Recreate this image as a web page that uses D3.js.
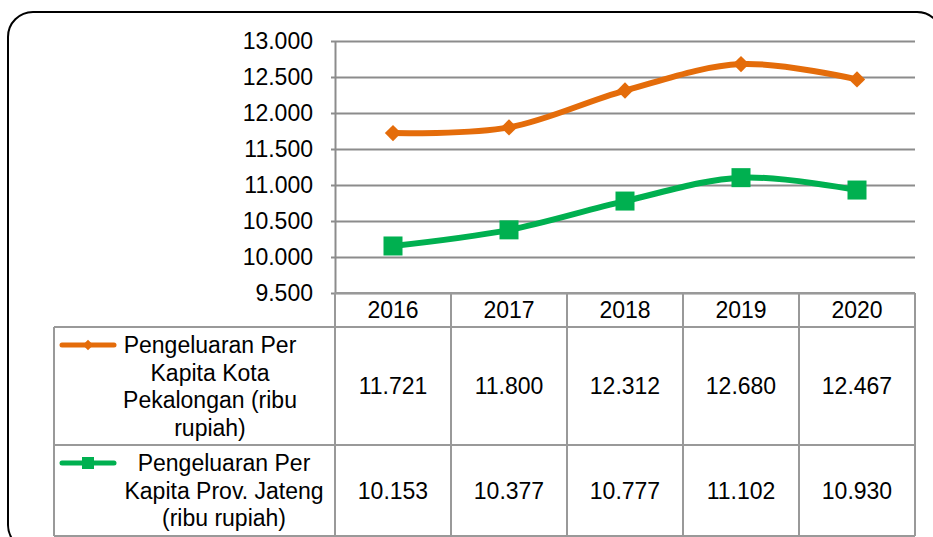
<!DOCTYPE html>
<html>
<head>
<meta charset="utf-8">
<title>Pengeluaran Per Kapita</title>
<style>
  body { margin: 0; background: #fff; }
  svg text { font-family: "Liberation Sans", Arial, sans-serif; fill: #000; }
</style>
</head>
<body>
<div class="plot_container"></div>
<script src="https://cdn.jsdelivr.net/npm/d3@7"></script>
<script>
// data
var years = ["2016", "2017", "2018", "2019", "2020"];
var kota = [11721, 11800, 12312, 12680, 12467];
var jateng = [10153, 10377, 10777, 11102, 10930];
var y_ticks = [9500, 10000, 10500, 11000, 11500, 12000, 12500, 13000];
var series_names = [
    ["Pengeluaran Per", "Kapita Kota", "Pekalongan (ribu", "rupiah)"],
    ["Pengeluaran Per", "Kapita Prov. Jateng", "(ribu rupiah)"]
];

var width = 933, height = 537;
var plot_left = 335, plot_right = 915, plot_top = 41, plot_bottom = 293;
var table_left = 54;
var row_lines = [293, 327, 445, 536];
var font_size = 23;
var grid_color = "#8c8c8c";
var orange = "#e46c0a", green = "#00b050";

var idn = d3.formatLocale({decimal: ",", thousands: ".", grouping: [3], currency: ["Rp", ""]});
var fmt = idn.format(",.0f");

var svg = d3.select(".plot_container").append("svg")
    .attr("width", width)
    .attr("height", height);

// outer rounded frame
svg.append("rect")
    .attr("x", 8).attr("y", 12)
    .attr("width", 934).attr("height", 538)
    .attr("rx", 25).attr("ry", 25)
    .attr("fill", "none")
    .attr("stroke", "#000")
    .attr("stroke-width", 2);

var x = d3.scaleBand().domain(years).range([plot_left, plot_right]);
var y = d3.scaleLinear().domain([9500, 13000]).range([plot_bottom, plot_top]);

// y axis with gridlines
var yAxis = svg.append("g")
    .attr("transform", "translate(" + plot_left + ",0)")
    .call(d3.axisLeft(y).tickValues(y_ticks).tickFormat(fmt)
        .tickSizeInner(-(plot_right - plot_left)).tickSizeOuter(0).tickPadding(22));
yAxis.select(".domain").attr("stroke", grid_color).attr("stroke-width", 2);
yAxis.selectAll(".tick line").attr("stroke", grid_color).attr("stroke-width", 2);
yAxis.selectAll(".tick").append("line")
    .attr("x1", -4).attr("x2", 0)
    .attr("stroke", grid_color).attr("stroke-width", 2);
yAxis.selectAll(".tick text")
    .style("font-size", font_size + "px")
    .attr("fill", "#000");

// data table lines
var tbl = svg.append("g").attr("stroke", "#999").attr("stroke-width", 2).attr("fill", "none");
tbl.append("line").attr("x1", plot_left).attr("x2", plot_right).attr("y1", row_lines[0]).attr("y2", row_lines[0]);
row_lines.slice(1).forEach(function(ry){
    tbl.append("line").attr("x1", table_left).attr("x2", plot_right).attr("y1", ry).attr("y2", ry);
});
tbl.append("line").attr("x1", table_left).attr("x2", table_left).attr("y1", row_lines[1]).attr("y2", row_lines[3]);
years.forEach(function(d){
    tbl.append("line").attr("x1", x(d)).attr("x2", x(d)).attr("y1", row_lines[0]).attr("y2", row_lines[3]);
});
tbl.append("line").attr("x1", plot_right).attr("x2", plot_right).attr("y1", row_lines[0]).attr("y2", row_lines[3]);

// year header
svg.selectAll(".year")
    .data(years)
    .enter()
    .append("text")
    .attr("class", "year")
    .attr("x", function(d){ return x(d) + x.bandwidth()/2; })
    .attr("y", (row_lines[0] + row_lines[1])/2)
    .attr("dy", "0.35em")
    .attr("text-anchor", "middle")
    .style("font-size", font_size + "px")
    .text(function(d){ return d; });

// value cells
[kota, jateng].forEach(function(vals, r){
    svg.selectAll(".val" + r)
        .data(vals)
        .enter()
        .append("text")
        .attr("class", "val" + r)
        .attr("x", function(d, i){ return x(years[i]) + x.bandwidth()/2; })
        .attr("y", (row_lines[r+1] + row_lines[r+2])/2)
        .attr("dy", "0.35em")
        .attr("text-anchor", "middle")
        .style("font-size", font_size + "px")
        .text(function(d){ return fmt(d); });
});

// lines
var line = d3.line()
    .x(function(d, i){ return x(years[i]) + x.bandwidth()/2; })
    .y(function(d){ return y(d); })
    .curve(d3.curveCatmullRom.alpha(0));

svg.append("path").datum(kota)
    .attr("d", line).attr("fill", "none")
    .attr("stroke", orange).attr("stroke-width", 6).attr("stroke-linejoin", "round");
svg.append("path").datum(jateng)
    .attr("d", line).attr("fill", "none")
    .attr("stroke", green).attr("stroke-width", 6).attr("stroke-linejoin", "round");

// markers
var diamond = d3.symbol().type(d3.symbolDiamond2).size(170);
svg.selectAll(".mk_kota")
    .data(kota)
    .enter()
    .append("path")
    .attr("class", "mk_kota")
    .attr("d", diamond)
    .attr("transform", function(d, i){
        return "translate(" + (x(years[i]) + x.bandwidth()/2) + "," + y(d) + ")";
    })
    .attr("fill", orange);

var sq = 19;
svg.selectAll(".mk_jateng")
    .data(jateng)
    .enter()
    .append("rect")
    .attr("class", "mk_jateng")
    .attr("x", function(d, i){ return x(years[i]) + x.bandwidth()/2 - sq/2; })
    .attr("y", function(d){ return y(d) - sq/2; })
    .attr("width", sq).attr("height", sq)
    .attr("fill", green);

// legend keys in table
var key_y = [345, 463];
var key_colors = [orange, green];
key_y.forEach(function(ky, r){
    svg.append("line")
        .attr("x1", 62).attr("x2", 114).attr("y1", ky).attr("y2", ky)
        .attr("stroke", key_colors[r]).attr("stroke-width", 5).attr("stroke-linecap", "round");
});
svg.append("path")
    .attr("d", d3.symbol().type(d3.symbolDiamond2).size(70))
    .attr("transform", "translate(88," + key_y[0] + ")")
    .attr("fill", orange);
svg.append("rect")
    .attr("x", 82).attr("y", key_y[1] - 6).attr("width", 12).attr("height", 12)
    .attr("fill", green);

// legend text
var text_cx = [210, 224];
series_names.forEach(function(lines, r){
    var t = svg.append("text")
        .attr("text-anchor", "middle")
        .style("font-size", font_size + "px");
    lines.forEach(function(s, k){
        t.append("tspan")
            .attr("x", text_cx[r])
            .attr("y", key_y[r] + k*27.5)
            .attr("dy", "0.35em")
            .text(s);
    });
});
</script>
</body>
</html>
